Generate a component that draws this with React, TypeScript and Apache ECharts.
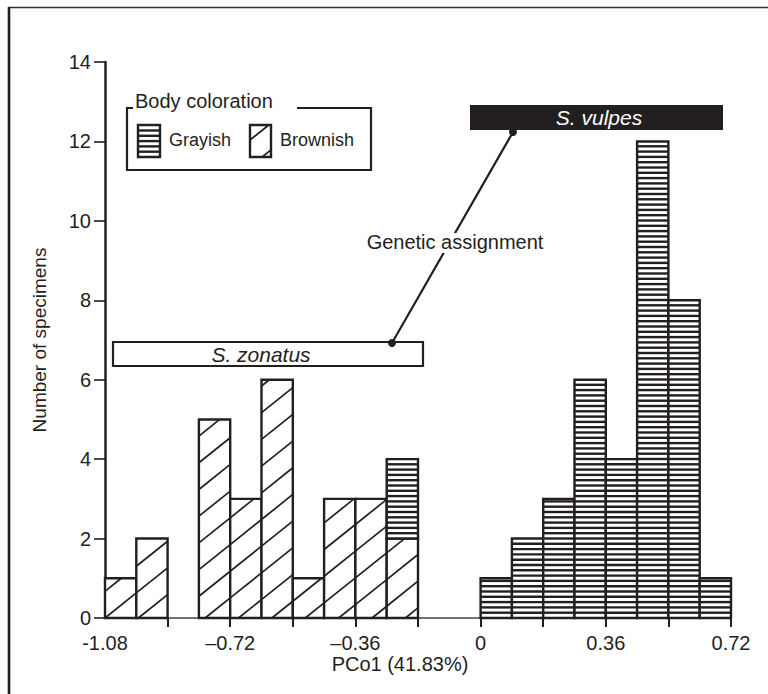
import React, { useEffect, useRef } from "react";
import * as echarts from "echarts";

// Histogram bins (PCo1), width 0.09
const binStart = [-1.08, -0.99, -0.9, -0.81, -0.72, -0.63, -0.54, -0.45, -0.36, -0.27, -0.18, -0.09, 0, 0.09, 0.18, 0.27, 0.36, 0.45, 0.54, 0.63];
const binEnd = [-0.99, -0.9, -0.81, -0.72, -0.63, -0.54, -0.45, -0.36, -0.27, -0.18, -0.09, 0, 0.09, 0.18, 0.27, 0.36, 0.45, 0.54, 0.63, 0.72];
const brownish = [1, 2, 0, 5, 3, 6, 1, 3, 3, 2, 0, 0, 0, 0, 0, 0, 0, 0, 0, 0];
const grayish = [0, 0, 0, 0, 0, 0, 0, 0, 0, 2, 0, 0, 1, 2, 3, 6, 4, 12, 8, 1];
const xTickValues = [-0.9, -0.72, -0.54, -0.36, -0.18, 0, 0.18, 0.36, 0.54, 0.72];
const legendItems = ["Grayish", "Brownish"];

const INK = "#231f20";
const FONT = "'Liberation Sans', Arial, sans-serif";
const HSPACE = 5.3;
const DSPACE = 26.7;
const DSLOPE = 0.8;

function horizHatch(left: number, top: number, right: number, bottom: number, anchorY: number) {
  const out: any[] = [];
  for (let k = -400; k < 400; k++) {
    const y = anchorY - k * HSPACE;
    if (y > top + 1.5 && y < bottom - 1.5) {
      out.push({ type: "line", shape: { x1: left, y1: y, x2: right, y2: y }, style: { stroke: INK, lineWidth: 2.4 }, silent: true });
    }
  }
  return out;
}

function diagHatch(left: number, top: number, right: number, bottom: number, ox: number, oy: number) {
  const out: any[] = [];
  for (let k = -60; k < 60; k++) {
    const c = oy - k * DSPACE;
    let xa = ox + (c - bottom) / DSLOPE;
    let xb = ox + (c - top) / DSLOPE;
    xa = Math.max(xa, left);
    xb = Math.min(xb, right);
    if (xb - xa > 0.5) {
      out.push({
        type: "line",
        shape: { x1: xa, y1: c - DSLOPE * (xa - ox), x2: xb, y2: c - DSLOPE * (xb - ox) },
        style: { stroke: INK, lineWidth: 1.7 },
        silent: true,
      });
    }
  }
  return out;
}

function makeRender(kind: "h" | "d") {
  return (params: any, api: any) => {
    const x0 = api.value(0), x1 = api.value(1), b = api.value(2), t = api.value(3);
    if (!(t > b)) return null;
    const p0 = api.coord([x0, b]);
    const p1 = api.coord([x1, t]);
    const origin = api.coord([-1.08, 0]);
    const left = p0[0], right = p1[0], bottom = p0[1], top = p1[1];
    const children: any[] = [
      { type: "rect", shape: { x: left, y: top, width: right - left, height: bottom - top }, style: { fill: "#fff" } },
    ];
    if (kind === "h") children.push(...horizHatch(left, top, right, bottom, origin[1]));
    else children.push(...diagHatch(left, top, right, bottom, origin[0], origin[1]));
    children.push({ type: "rect", shape: { x: left, y: top, width: right - left, height: bottom - top }, style: { fill: "none", stroke: INK, lineWidth: 2.4 } });
    return { type: "group", children };
  };
}

function fmtX(val: number) {
  const v = Math.round(val * 100) / 100;
  if (Math.abs(Math.round(v / 0.36) * 0.36 - v) > 1e-6) return "";
  if (v === 0) return "0";
  if (v < -1) return "-" + Math.abs(v).toFixed(2);
  if (v < 0) return "\u2013" + Math.abs(v).toFixed(2);
  return v.toFixed(2);
}

export default function App() {
  const ref = useRef<HTMLDivElement>(null);
  useEffect(() => {
    if (!ref.current) return;
    const chart = echarts.init(ref.current, null, { renderer: "svg" });
    const brownData = binStart.map((s, i) => [s, binEnd[i], 0, brownish[i]]);
    const grayData = binStart.map((s, i) => [s, binEnd[i], brownish[i], brownish[i] + grayish[i]]);

    const gIcon = { x: 138, y: 125, w: 22, h: 32 };
    const bIcon = { x: 250, y: 125, w: 21, h: 32 };
    const legendGraphic: any[] = [
      { type: "polyline", shape: { points: [[133, 108], [127, 108], [127, 170], [371, 170], [371, 108], [297, 108]] }, style: { fill: "none", stroke: INK, lineWidth: 2.2 } },
      { type: "text", x: 135, y: 101, style: { text: "Body coloration", font: `20px ${FONT}`, fill: INK, verticalAlign: "middle", align: "left" } },
      { type: "rect", shape: { x: gIcon.x, y: gIcon.y, width: gIcon.w, height: gIcon.h }, style: { fill: "#fff" } },
      ...horizHatch(gIcon.x, gIcon.y, gIcon.x + gIcon.w, gIcon.y + gIcon.h, gIcon.y + gIcon.h),
      { type: "rect", shape: { x: gIcon.x, y: gIcon.y, width: gIcon.w, height: gIcon.h }, style: { fill: "none", stroke: INK, lineWidth: 2.4 } },
      { type: "text", x: 169, y: 140, style: { text: legendItems[0], font: `18px ${FONT}`, fill: INK, verticalAlign: "middle", align: "left" } },
      { type: "rect", shape: { x: bIcon.x, y: bIcon.y, width: bIcon.w, height: bIcon.h }, style: { fill: "#fff" } },
      ...diagHatch(bIcon.x, bIcon.y, bIcon.x + bIcon.w, bIcon.y + bIcon.h, 250, 140),
      { type: "rect", shape: { x: bIcon.x, y: bIcon.y, width: bIcon.w, height: bIcon.h }, style: { fill: "none", stroke: INK, lineWidth: 2.4 } },
      { type: "text", x: 280, y: 140, style: { text: legendItems[1], font: `18px ${FONT}`, fill: INK, verticalAlign: "middle", align: "left" } },
    ];

    chart.setOption({
      animation: false,
      backgroundColor: "#fff",
      grid: { left: 105, right: 37, top: 62, bottom: 76, containLabel: false, outerBoundsMode: "none" },
      xAxis: {
        type: "value",
        min: -1.08,
        max: 0.72,
        interval: 0.18,
        splitLine: { show: false },
        axisLine: { show: true, onZero: false, lineStyle: { color: "#444", width: 1.6 } },
        axisTick: { show: true, length: 9, customValues: xTickValues, lineStyle: { color: INK, width: 2 } },
        axisLabel: { show: true, margin: 15, showMinLabel: true, showMaxLabel: true, formatter: fmtX, color: INK, fontSize: 20, fontFamily: FONT },
      },
      yAxis: {
        type: "value",
        min: 0,
        max: 14,
        interval: 2,
        name: "Number of specimens",
        nameLocation: "middle",
        nameGap: 56,
        nameTextStyle: { color: INK, fontSize: 19, fontFamily: FONT },
        splitLine: { show: false },
        axisLine: { show: true, onZero: false, lineStyle: { color: INK, width: 2.5 } },
        axisTick: { show: true, length: 11, lineStyle: { color: INK, width: 1.6 } },
        axisLabel: { margin: 14, color: INK, fontSize: 20, fontFamily: FONT },
      },
      series: [
        { type: "custom", name: "Brownish", renderItem: makeRender("d"), data: brownData, encode: { x: [0, 1], y: [2, 3] }, clip: false, z: 3 },
        { type: "custom", name: "Grayish", renderItem: makeRender("h"), data: grayData, encode: { x: [0, 1], y: [2, 3] }, clip: false, z: 3 },
      ],
      graphic: [
        { type: "line", shape: { x1: 8, y1: 7.5, x2: 768, y2: 7.5 }, style: { stroke: "#333", lineWidth: 1.6 }, z: 10 },
        { type: "line", shape: { x1: 9, y1: 7, x2: 9, y2: 694 }, style: { stroke: INK, lineWidth: 2.6 }, z: 10 },
        { type: "text", x: 400, y: 664, style: { text: "PCo1 (41.83%)", font: `20px ${FONT}`, fill: INK, align: "center", verticalAlign: "middle" }, z: 10 },
        { type: "group", children: legendGraphic, z: 10 },
        { type: "line", shape: { x1: 392, y1: 343, x2: 513, y2: 132 }, style: { stroke: INK, lineWidth: 2.2 }, z: 10 },
        { type: "rect", shape: { x: 360, y: 233, width: 188, height: 20 }, style: { fill: "#fff" }, z: 11 },
        { type: "text", x: 455, y: 242, style: { text: "Genetic assignment", font: `20px ${FONT}`, fill: INK, align: "center", verticalAlign: "middle" }, z: 12 },
        { type: "rect", shape: { x: 470, y: 105, width: 253, height: 25 }, style: { fill: INK }, z: 12 },
        { type: "text", x: 599, y: 117.5, style: { text: "S. vulpes", font: `italic 21px ${FONT}`, fill: "#fff", align: "center", verticalAlign: "middle" }, z: 13 },
        { type: "rect", shape: { x: 113, y: 342, width: 310, height: 24 }, style: { fill: "#fff", stroke: INK, lineWidth: 2.2 }, z: 12 },
        { type: "text", x: 261, y: 354, style: { text: "S. zonatus", font: `italic 21px ${FONT}`, fill: INK, align: "center", verticalAlign: "middle" }, z: 13 },
        { type: "circle", shape: { cx: 392, cy: 343, r: 4 }, style: { fill: INK }, z: 14 },
        { type: "circle", shape: { cx: 513, cy: 132, r: 4 }, style: { fill: INK }, z: 14 },
      ],
    });
    return () => chart.dispose();
  }, []);
  return <div ref={ref} style={{ position: "absolute", left: 0, top: 0, width: 768, height: 694, background: "#fff" }} />;
}
